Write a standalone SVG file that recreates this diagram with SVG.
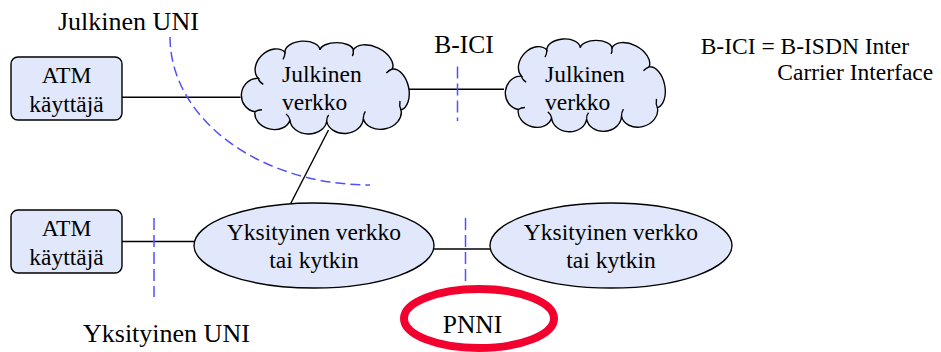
<svg xmlns="http://www.w3.org/2000/svg" width="941" height="352" viewBox="0 0 941 352">
  <style>
    .node { fill: #e1e8fb; stroke: #000; stroke-width: 1.4; }
    .hook { fill: none; stroke: #000; stroke-width: 1.4; }
    .t { font-family: "Liberation Serif", "Times New Roman", serif; fill: #000; }
    .nt { font-size: 23.5px; }
    .lbl { font-size: 26px; }
    .conn { stroke: #000; stroke-width: 1.4; fill: none; }
    .dash { stroke: #5050ff; stroke-width: 1.5; fill: none; stroke-dasharray: 12 5; }
    .arc { stroke-dasharray: 10 5; }
  </style>
  <defs>
    <g id="cloud">
      <path class="node" d="M258.3,78.3 A18.6,14 -44.2 0 1 285,52.3 A17.5,10 -3.8 0 1 320,50 A16.7,8 0 0 1 353.3,50 A21.7,13 26 0 1 392.3,69 A21,13 78 0 1 401,110 A19.3,15 167.6 0 1 363.3,118.3 A18.4,15 175.8 0 1 326.7,121 A18.4,14.5 181.6 0 1 290,120 A18,14 193.3 0 1 255,111.7 A16.8,16 -84.4 0 1 258.3,78.3 Z"/>
      <path class="hook" d="M258.3,78.3 q1,4 5,6 M285,52.3 q0,4 -2,7 M353.3,50 q0.5,4 -1,6 M392.3,69 q-3,1 -6,4 M401,110 q-2,-4 -1,-9 M363.3,118.3 q0,-4 2,-7 M326.7,121 q0,-4 2,-6 M290,120 q-1,-4 -4,-6 M255,111.7 q3,-2 7,-2"/>
    </g>
  </defs>

  <g id="connectors">
    <line class="conn" x1="122" y1="97.3" x2="240.5" y2="97.3"/>
    <line class="conn" x1="408" y1="89.3" x2="504" y2="89.3"/>
    <line class="conn" x1="328.5" y1="130" x2="290.7" y2="203.5"/>
    <line class="conn" x1="122" y1="241.5" x2="194" y2="241.5"/>
    <line class="conn" x1="434" y1="249" x2="490" y2="249"/>
  </g>

  <g id="interfaces">
    <path class="dash arc" d="M170,37 A200,148 0 0 0 370,185"/>
    <line class="dash" x1="457.5" y1="66.5" x2="457.5" y2="121"/>
    <line class="dash" x1="154" y1="218" x2="154" y2="297"/>
    <line class="dash" x1="465.5" y1="218" x2="465.5" y2="286"/>
  </g>

  <g id="atm1">
    <rect class="node" x="11" y="57" width="111" height="63" rx="7"/>
    <text class="t nt" x="66.5" y="83" text-anchor="middle">ATM</text>
    <text class="t nt" x="66.5" y="111.5" text-anchor="middle">käyttäjä</text>
  </g>

  <g id="cloud1">
    <use href="#cloud"/>
    <text class="t nt" x="282" y="81.5">Julkinen</text>
    <text class="t nt" x="282" y="110">verkko</text>
  </g>

  <g id="cloud2">
    <use href="#cloud" transform="translate(504,39.5) scale(0.953,1) translate(-240,-41.7)"/>
    <text class="t nt" x="545" y="82">Julkinen</text>
    <text class="t nt" x="545" y="109.5">verkko</text>
  </g>

  <g id="atm2">
    <rect class="node" x="11" y="210" width="111" height="63" rx="7"/>
    <text class="t nt" x="66.5" y="235.5" text-anchor="middle">ATM</text>
    <text class="t nt" x="66.5" y="264.5" text-anchor="middle">käyttäjä</text>
  </g>

  <g id="private1">
    <ellipse class="node" cx="314" cy="245.5" rx="120" ry="42.5"/>
    <text class="t nt" x="314" y="240" text-anchor="middle">Yksityinen verkko</text>
    <text class="t nt" x="314" y="267.5" text-anchor="middle">tai kytkin</text>
  </g>

  <g id="private2">
    <ellipse class="node" cx="611" cy="245.5" rx="121" ry="42.5"/>
    <text class="t nt" x="611" y="240" text-anchor="middle">Yksityinen verkko</text>
    <text class="t nt" x="611" y="267.5" text-anchor="middle">tai kytkin</text>
  </g>

  <g id="pnni">
    <ellipse cx="479" cy="318.5" rx="75" ry="29.5" fill="none" stroke="#f2002e" stroke-width="8"/>
    <text class="t lbl" x="472.5" y="333" text-anchor="middle" style="font-size:25.5px">PNNI</text>
  </g>

  <g id="labels">
    <text class="t lbl" x="58" y="29.5">Julkinen UNI</text>
    <text class="t lbl" x="434.3" y="53.3" style="font-size:25.5px">B-ICI</text>
    <text class="t lbl" x="83" y="341.5">Yksityinen UNI</text>
    <text class="t nt" x="700.7" y="54.3">B-ICI = B-ISDN Inter</text>
    <text class="t nt" x="777.3" y="80">Carrier Interface</text>
  </g>
</svg>
